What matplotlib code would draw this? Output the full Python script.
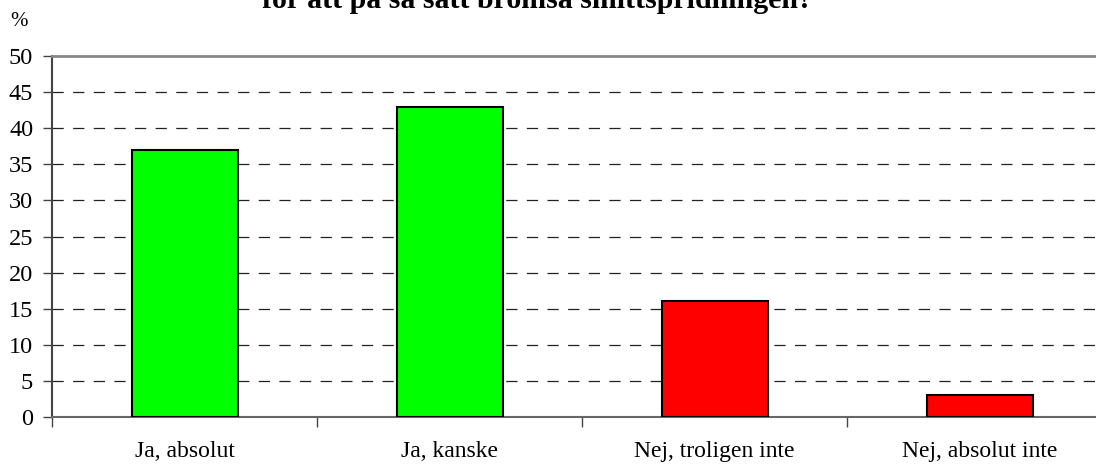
import matplotlib.pyplot as plt
import numpy as np

categories = ['Ja, absolut', 'Ja, kanske', 'Nej, troligen inte', 'Nej, absolut inte']
values = [37, 43, 16, 3]
colors = ['#00ff00', '#00ff00', '#ff0000', '#ff0000']
title = 'Skulle du kunna tänka dig att avstå från att träffa äldre personer\nför att på så sätt bromsa smittspridningen?'

plt.rcParams['font.family'] = ['Liberation Serif', 'DejaVu Serif']

fig = plt.figure(figsize=(10.96, 4.65), dpi=100)
ax = fig.add_axes([52/1096, 1 - 417/465, 1060/1096, 361/465])

x = np.arange(len(categories))
ax.bar(x, values, width=0.4, color=colors, edgecolor='black', linewidth=1.5, zorder=3)

ax.set_xlim(-0.5, 3.5)
ax.set_ylim(0, 50)
ax.set_yticks(range(0, 51, 5))
ax.tick_params(axis='y', labelsize=17.5, length=6.5, width=1, color='#444444', pad=7)

# dashed gridlines at 5..45
for yv in range(5, 50, 5):
    ax.axhline(yv, color='#222222', linestyle=(0, (9, 7.5)), linewidth=0.9, zorder=1)

ax.set_xticks(x)
ax.set_xticklabels(categories, fontsize=17)
ax.tick_params(axis='x', which='major', length=0, pad=17)
ax.set_xticks(np.arange(-0.5, 3.5, 1), minor=True)
ax.tick_params(axis='x', which='minor', length=7, width=1, color='#444444')

ax.spines['right'].set_visible(False)
ax.spines['top'].set_color('#888888')
ax.spines['top'].set_linewidth(2)
ax.spines['left'].set_color('#444444')
ax.spines['left'].set_linewidth(1.5)
ax.spines['bottom'].set_color('#666666')
ax.spines['bottom'].set_linewidth(1.5)

fig.text(537/1096, 1 - 8/465, title, ha='center', va='baseline', fontsize=21.5,
         fontweight='bold', multialignment='center')
fig.text(19/1096, 1 - 21/465, '%', ha='center', va='center', fontsize=15)

fig.savefig('out.png', dpi=100)
